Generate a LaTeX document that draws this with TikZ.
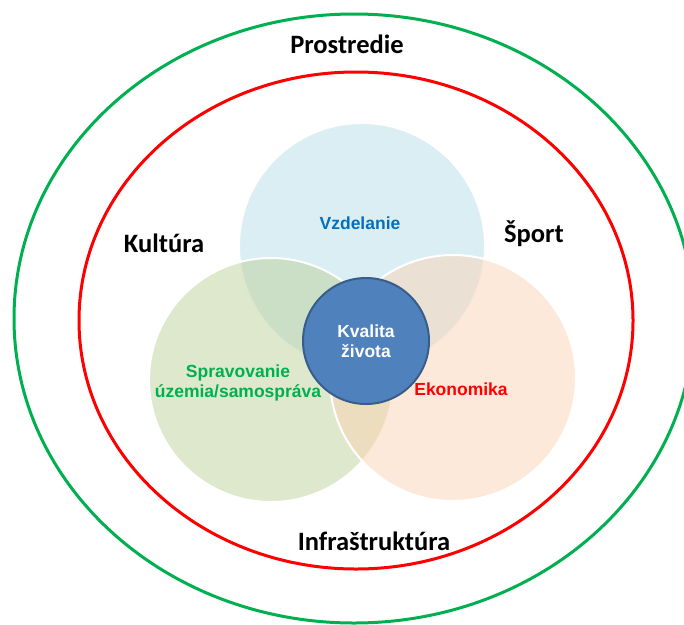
\documentclass[tikz,border=0pt]{standalone}
\usepackage{fontspec}
\setmainfont{Liberation Sans}
\newfontfamily\calibri{Carlito}
\usepackage{xcolor}
\definecolor{ringgreen}{HTML}{00B050}
\definecolor{ringred}{HTML}{FF0000}
\definecolor{edublue}{HTML}{B5DDE7}
\definecolor{govgreen}{HTML}{BDD199}
\definecolor{ecopeach}{HTML}{FBD3B3}
\definecolor{corefill}{HTML}{4F81BD}
\definecolor{coreline}{HTML}{385D8A}
\definecolor{textblue}{HTML}{0070C0}
\usetikzlibrary{shapes.geometric}

\begin{document}
\begin{tikzpicture}[x=1pt, y=-1pt,
    ring/.style={draw, ellipse, line width=3pt, inner sep=0pt},
    area/.style={circle, draw=white, line width=2pt, fill opacity=0.5, inner sep=0pt},
    outer/.style={font=\calibri\bfseries\fontsize{26.5}{30}\selectfont},
    inner/.style={font=\bfseries\fontsize{17.5}{20}\selectfont, align=center}
]
  \useasboundingbox (0,0) rectangle (684,624);

  % Rings
  \node[ring, draw=ringgreen, minimum width=680pt, minimum height=609pt] (env) at (354,318.5) {};
  \node[ring, draw=ringred, minimum width=554pt, minimum height=497pt] (area) at (356,320.5) {};

  % Overlapping circles
  \node[area, fill=edublue, minimum size=246pt] (edu) at (362,246) {};
  \node[area, fill=govgreen, minimum size=244pt] (gov) at (271,380) {};
  \node[area, fill=ecopeach, minimum size=246pt] (eco) at (453,378) {};

  % Centre
  \node[circle, draw=coreline, line width=2pt, fill=corefill, minimum size=126pt,
        text=white, inner] (core) at (366,341) {Kvalita\\života};

  % Labels
  \node[outer] (envlabel) at (347,44) {Prostredie};
  \node[outer] (culture) at (164,243) {Kultúra};
  \node[outer] (sport) at (534,234) {Šport};
  \node[outer] (infra) at (374,541) {Infraštruktúra};
  \node[inner, text=textblue] (edulabel) at (360,223) {Vzdelanie};
  \node[inner, text=ringgreen] (govlabel) at (238,383) {Spravovanie\\územia/samospráva};
  \node[inner, text=ringred] (ecolabel) at (461,389) {Ekonomika};
\end{tikzpicture}
\end{document}
